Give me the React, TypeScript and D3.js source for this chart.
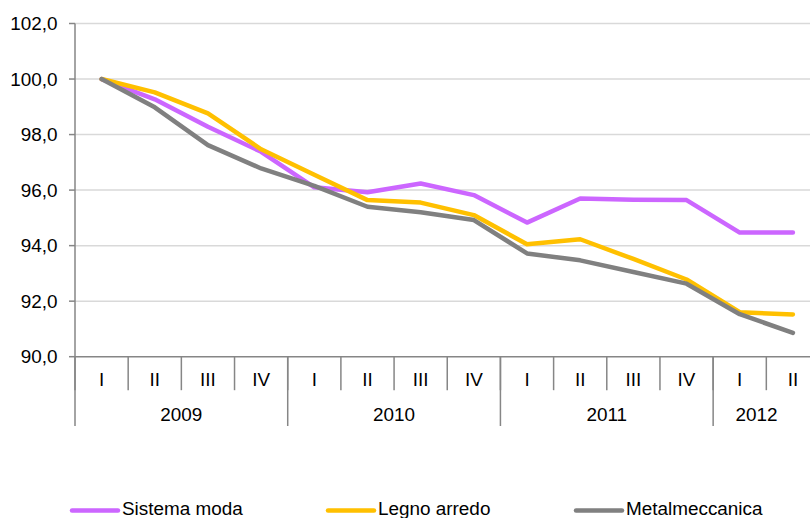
import React, { useEffect, useRef } from 'react';
import * as d3 from 'd3';

// quarters and years on the x axis
const quarters = ['I', 'II', 'III', 'IV', 'I', 'II', 'III', 'IV', 'I', 'II', 'III', 'IV', 'I', 'II'];
const years = ['2009', '2010', '2011', '2012'];
const yearSpans = [4, 4, 4, 2];
const yTicks = [90, 92, 94, 96, 98, 100, 102];

// index values (I 2009 = 100)
const sistemaModa = [100, 99.27, 98.28, 97.38, 96.1, 95.92, 96.24, 95.82, 94.83, 95.7, 95.65, 95.64, 94.47, 94.47];
const legnoArredo = [100, 99.52, 98.76, 97.47, 96.55, 95.64, 95.55, 95.1, 94.05, 94.23, 93.52, 92.78, 91.6, 91.52];
const metalmeccanica = [100, 98.98, 97.62, 96.78, 96.15, 95.4, 95.2, 94.92, 93.72, 93.47, 93.05, 92.63, 91.53, 90.86];

const seriesNames = ['Sistema moda', 'Legno arredo', 'Metalmeccanica'];
const seriesColors = ['#CC66FF', '#FFC000', '#808080'];

function App() {
  const ref = useRef<SVGSVGElement>(null);

  useEffect(() => {
    const svg = d3.select(ref.current);
    svg.selectAll('*').remove();

    const font = 'Liberation Sans, Arial, sans-serif';
    const fs = '18.9px';
    const left = 75, right = 819.5, top = 23.5, bottom = 356.7;

    const x = d3.scaleBand<number>()
      .domain(d3.range(quarters.length))
      .range([left, right])
      .padding(0);
    const y = d3.scaleLinear().domain([90, 102]).range([bottom, top]);

    // gridlines
    svg.append('g')
      .selectAll('line')
      .data(yTicks.filter(d => d > 90))
      .enter()
      .append('line')
      .attr('x1', left)
      .attr('x2', right)
      .attr('y1', d => y(d))
      .attr('y2', d => y(d))
      .attr('stroke', '#d9d9d9')
      .attr('stroke-width', 1.5);

    // y axis
    svg.append('line')
      .attr('x1', left).attr('x2', left)
      .attr('y1', top).attr('y2', bottom)
      .attr('stroke', '#868686').attr('stroke-width', 1.5);

    const yt = svg.append('g').selectAll('g').data(yTicks).enter().append('g');
    yt.append('line')
      .attr('x1', left - 6).attr('x2', left)
      .attr('y1', d => y(d)).attr('y2', d => y(d))
      .attr('stroke', '#868686').attr('stroke-width', 1.5);
    yt.append('text')
      .text(d => d.toFixed(1).replace('.', ','))
      .attr('x', 57.5)
      .attr('y', d => y(d) + 6.5)
      .attr('text-anchor', 'end')
      .attr('font-family', font)
      .attr('font-size', fs)
      .attr('fill', '#000');

    // x axis
    svg.append('line')
      .attr('x1', left).attr('x2', right)
      .attr('y1', bottom).attr('y2', bottom)
      .attr('stroke', '#868686').attr('stroke-width', 1.5);

    svg.append('g').selectAll('line')
      .data(d3.range(quarters.length + 1))
      .enter()
      .append('line')
      .attr('x1', i => left + i * x.step())
      .attr('x2', i => left + i * x.step())
      .attr('y1', bottom)
      .attr('y2', bottom + 33.5)
      .attr('stroke', '#868686').attr('stroke-width', 1.5);

    svg.append('g').selectAll('text')
      .data(quarters)
      .enter()
      .append('text')
      .text(d => d)
      .attr('x', (d, i) => (x(i) as number) + x.bandwidth() / 2)
      .attr('y', 385.5)
      .attr('text-anchor', 'middle')
      .attr('font-family', font)
      .attr('font-size', fs)
      .attr('fill', '#000');

    const starts = d3.cumsum([0, ...yearSpans]);
    svg.append('g').selectAll('line')
      .data(Array.from(starts))
      .enter()
      .append('line')
      .attr('x1', s => left + s * x.step())
      .attr('x2', s => left + s * x.step())
      .attr('y1', bottom)
      .attr('y2', 426)
      .attr('stroke', '#868686').attr('stroke-width', 1.5);

    svg.append('g').selectAll('text')
      .data(years)
      .enter()
      .append('text')
      .text(d => d)
      .attr('x', (d, i) => {
        const a = left + starts[i] * x.step();
        const b = Math.min(left + starts[i + 1] * x.step(), 800);
        return (a + b) / 2;
      })
      .attr('y', 420.5)
      .attr('text-anchor', 'middle')
      .attr('font-family', font)
      .attr('font-size', fs)
      .attr('fill', '#000');

    // lines
    const line = d3.line<number>()
      .x((d, i) => (x(i) as number) + x.bandwidth() / 2)
      .y(d => y(d));

    [sistemaModa, legnoArredo, metalmeccanica].forEach((data, k) => {
      svg.append('path')
        .datum(data)
        .attr('d', line)
        .attr('fill', 'none')
        .attr('stroke', seriesColors[k])
        .attr('stroke-width', 4.5)
        .attr('stroke-linejoin', 'round')
        .attr('stroke-linecap', 'round');
    });

    // legend
    const legendX = [70, 326, 574];
    const lg = svg.append('g').selectAll('g')
      .data(seriesNames)
      .enter()
      .append('g');
    lg.append('line')
      .attr('x1', (d, i) => legendX[i] + 2)
      .attr('x2', (d, i) => legendX[i] + 48)
      .attr('y1', 510.5)
      .attr('y2', 510.5)
      .attr('stroke', (d, i) => seriesColors[i])
      .attr('stroke-width', 4.5)
      .attr('stroke-linecap', 'round');
    lg.append('text')
      .text(d => d)
      .attr('x', (d, i) => legendX[i] + 52)
      .attr('y', 514.5)
      .attr('font-family', font)
      .attr('font-size', fs)
      .attr('fill', '#000');
  }, []);

  return (
    <svg
      ref={ref}
      width={810}
      height={518}
      style={{ position: 'absolute', left: 0, top: 0, background: '#fff', overflow: 'hidden' }}
    />
  );
}

export default App;
